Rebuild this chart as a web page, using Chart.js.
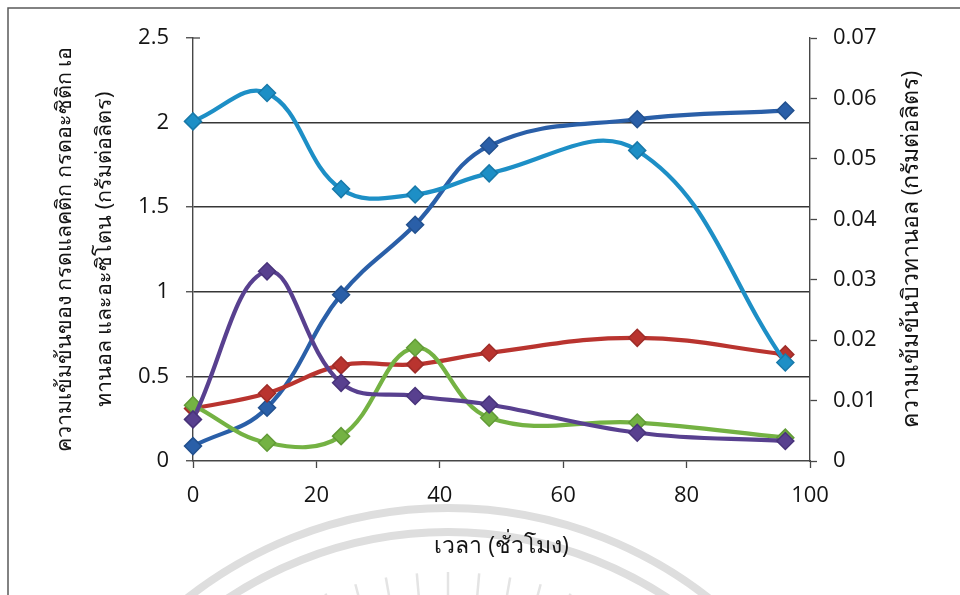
<!DOCTYPE html>
<html>
<head>
<meta charset="utf-8">
<script src="https://cdn.jsdelivr.net/npm/chart.js@4/dist/chart.umd.min.js"></script>
<style>
html,body{margin:0;padding:0;background:#ffffff;}
canvas{display:block;}
</style>
</head>
<body>
<canvas id="c" width="960" height="595"></canvas>
<script>
// ---- data ----
const hours = [0, 12, 24, 36, 48, 72, 96];
const seriesDarkBlue = [0.088, 0.315, 0.983, 1.396, 1.863, 2.020, 2.071];
const seriesRed      = [0.310, 0.400, 0.565, 0.571, 0.640, 0.728, 0.630];
const seriesGreen    = [0.330, 0.108, 0.147, 0.669, 0.256, 0.227, 0.138];
const seriesPurple   = [0.246, 1.121, 0.462, 0.384, 0.334, 0.167, 0.118];
const butanol        = [0.0562, 0.0609, 0.0450, 0.0441, 0.0476, 0.0514, 0.0163];

const xTicks = [0, 20, 40, 60, 80, 100];
const leftTicks = [0, 0.5, 1, 1.5, 2, 2.5];
const rightTicks = [0, 0.01, 0.02, 0.03, 0.04, 0.05, 0.06, 0.07];

const leftTitle = ['ความเข้มข้นของ กรดแลคติก กรดอะซิติก เอ', 'ทานอล และอะซิโตน (กรัมต่อลิตร)'];
const rightTitle = 'ความเข้มข้นบิวทานอล (กรัมต่อลิตร)';
const xTitle = 'เวลา (ชั่วโมง)';

const pts = arr => hours.map((h, i) => ({x: h, y: arr[i]}));

const TEXT = '#141414';
const AXIS = '#474747';
const FONT = "'Open Sans', 'Noto Sans', sans-serif";

function ds(data, color, border, order, axis) {
  return {
    data: pts(data),
    borderColor: color,
    backgroundColor: color,
    borderWidth: 4.2,
    pointStyle: 'rectRot',
    pointRadius: 8.5,
    pointBackgroundColor: color,
    pointBorderColor: border,
    pointBorderWidth: 1.5,
    tension: 0.4,
    fill: false,
    clip: false,
    order: order,
    yAxisID: axis
  };
}

const decor = {
  id: 'decor',
  beforeDraw(chart) {
    const c = chart.ctx;
    c.save();
    c.fillStyle = '#ffffff';
    c.fillRect(0, 0, chart.width, chart.height);
    // faint watermark arcs
    c.strokeStyle = '#dedede';
    c.lineWidth = 8;
    c.beginPath(); c.arc(448, 930, 422, Math.PI, 2 * Math.PI); c.stroke();
    c.beginPath(); c.arc(448, 930, 398, Math.PI, 2 * Math.PI); c.stroke();
    c.lineWidth = 2.5;
    c.strokeStyle = '#e4e4e4';
    for (let a = -115; a <= -65; a += 5) {
      const r = a * Math.PI / 180;
      c.beginPath();
      c.moveTo(448 + Math.cos(r) * 335, 930 + Math.sin(r) * 335);
      c.lineTo(448 + Math.cos(r) * 358, 930 + Math.sin(r) * 358);
      c.stroke();
    }
    c.restore();
  },
  afterDraw(chart) {
    const c = chart.ctx;
    const ca = chart.chartArea;
    c.save();
    // outer frame
    c.strokeStyle = '#5a5a5a';
    c.lineWidth = 1.5;
    c.beginPath();
    c.moveTo(8, 600); c.lineTo(8, 8); c.lineTo(965, 8);
    c.stroke();
    // inner half of the cross tick at the top of the left axis
    const yS = chart.scales.y;
    const yt = yS.getPixelForValue(leftTicks[leftTicks.length - 1]);
    c.strokeStyle = AXIS; c.lineWidth = 1.3;
    c.beginPath(); c.moveTo(ca.left, yt); c.lineTo(ca.left + 7, yt); c.stroke();
    // right axis title, reading bottom to top
    c.fillStyle = TEXT;
    c.font = "23px " + FONT;
    c.textAlign = 'center';
    c.textBaseline = 'middle';
    c.translate(911, (ca.top + ca.bottom) / 2);
    c.rotate(-Math.PI / 2);
    c.fillText(rightTitle, 0, 0);
    c.restore();
  }
};

new Chart(document.getElementById('c'), {
  type: 'line',
  data: {
    datasets: [
      ds(seriesDarkBlue, '#2a5fa8', '#22508e', 5, 'y'),
      ds(seriesRed, '#b9342f', '#9e2c28', 4, 'y'),
      ds(seriesGreen, '#74b243', '#619a36', 3, 'y'),
      ds(seriesPurple, '#58408f', '#48337a', 2, 'y'),
      ds(butanol, '#1d8fc6', '#1879a9', 1, 'y1')
    ]
  },
  options: {
    responsive: false,
    animation: false,
    devicePixelRatio: 1,
    layout: {padding: {top: 38, left: 0, right: 0, bottom: 0}},
    plugins: {legend: {display: false}, tooltip: {enabled: false}},
    scales: {
      x: {
        type: 'linear',
        min: 0, max: 100,
        afterFit: s => { s.height = 134; },
        afterBuildTicks: s => { s.ticks = xTicks.map(v => ({value: v})); },
        ticks: {color: TEXT, font: {family: FONT, size: 22}, padding: 15, callback: v => String(v)},
        grid: {drawOnChartArea: false, drawTicks: true, tickLength: 7, tickColor: AXIS, tickWidth: 1.3},
        border: {display: true, color: AXIS, width: 1.4},
        title: {display: true, text: xTitle, color: TEXT, font: {family: FONT, size: 23}, padding: {top: 0, bottom: 35}}
      },
      y: {
        type: 'linear', position: 'left',
        min: 0, max: 2.5,
        afterFit: s => { s.width = 193; },
        afterBuildTicks: s => { s.ticks = leftTicks.map(v => ({value: v})); },
        ticks: {color: TEXT, font: {family: FONT, size: 22}, padding: 17, callback: v => String(v)},
        grid: {
          color: c => (c.tick && (c.tick.value === 0 || c.tick.value === 2.5)) ? 'rgba(0,0,0,0)' : '#363636',
          lineWidth: 1.5,
          drawTicks: true, tickLength: 7, tickColor: AXIS, tickWidth: 1.3
        },
        border: {display: true, color: AXIS, width: 1.4},
        title: {display: true, text: leftTitle, color: TEXT, font: {family: FONT, size: 21.5, lineHeight: '40px'}, padding: {top: 45, bottom: 0}}
      },
      y1: {
        type: 'linear', position: 'right',
        min: 0, max: 0.07,
        afterFit: s => { s.width = 150; },
        afterBuildTicks: s => { s.ticks = rightTicks.map(v => ({value: v})); },
        ticks: {color: TEXT, font: {family: FONT, size: 22}, padding: 16, callback: v => String(v)},
        grid: {drawOnChartArea: false, drawTicks: true, tickLength: 7, tickColor: AXIS, tickWidth: 1.3},
        border: {display: true, color: AXIS, width: 1.4}
      }
    }
  },
  plugins: [decor]
});
</script>
</body>
</html>
